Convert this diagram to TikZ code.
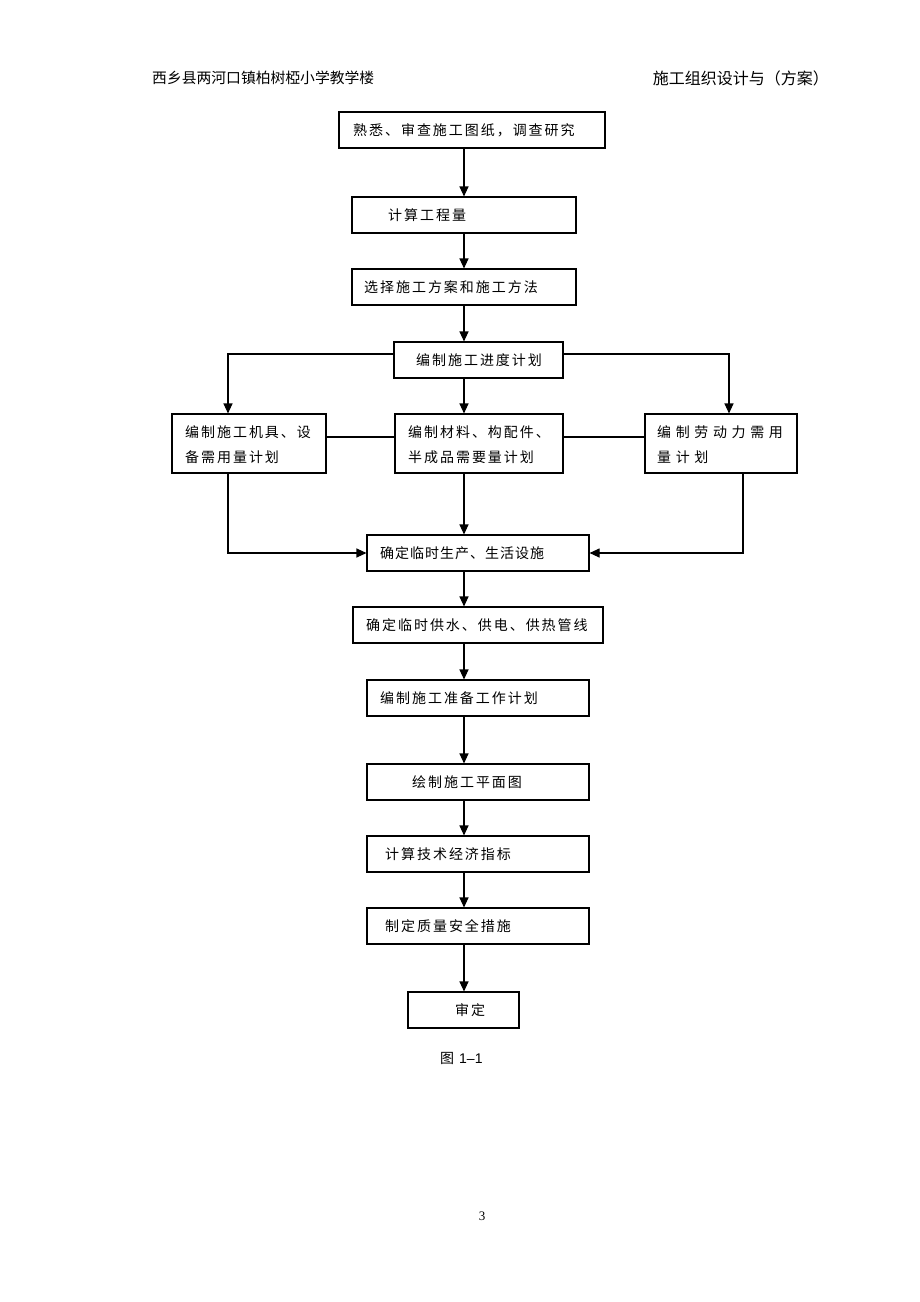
\documentclass[tikz,border=0pt]{standalone}
\usepackage{fontspec}
\setmainfont{Liberation Serif}
\newfontfamily\cjk{Noto Sans CJK SC}
\newfontfamily\cjkw[LetterSpace=14]{Noto Sans CJK SC}
\newfontfamily\cjkn[LetterSpace=7]{Noto Sans CJK SC}
\newfontfamily\cjkww[LetterSpace=33]{Noto Sans CJK SC}
\newfontfamily\arial{Liberation Sans}
\usetikzlibrary{arrows.meta}
\begin{document}
\begin{tikzpicture}[x=1pt,y=-1pt,
  box/.style={draw, line width=1.1pt, inner sep=0pt, minimum height=36pt},
  lbl/.style={anchor=west, inner sep=0pt, font=\cjkw\fontsize{14}{25}\selectfont, align=left},
  arr/.style={line width=1.1pt, -{Triangle[length=10pt,width=9pt]}},
  ln/.style={line width=1.1pt}]
\useasboundingbox (0,0) rectangle (920,1302);
% header
\node[anchor=west, inner sep=0pt, font=\cjk\fontsize{14.8}{16}\selectfont] (hl) at (152,78) {西乡县两河口镇柏树椏小学教学楼};
\node[anchor=east, inner sep=0pt, font=\cjk\fontsize{16}{18}\selectfont] (hr) at (829,78) {施工组织设计与（方案）};
% axis coordinates
\coordinate (ax) at (464,0);
\coordinate (axL) at (228,0);
\coordinate (axR) at (729,0);
\coordinate (axRb) at (743,0);
% boxes
\node[box, minimum width=266pt] (b1) at (472,130) {};
\node[box, minimum width=224pt] (b2) at (464,215) {};
\node[box, minimum width=224pt] (b3) at (464,287) {};
\node[box, minimum width=169pt] (b4) at (478.5,360) {};
\node[box, minimum width=154pt, minimum height=59pt] (bl) at (249,443.5) {};
\node[box, minimum width=168pt, minimum height=59pt] (bm) at (479,443.5) {};
\node[box, minimum width=152pt, minimum height=59pt] (br) at (721,443.5) {};
\node[box, minimum width=222pt] (b6) at (478,553) {};
\node[box, minimum width=250pt] (b7) at (478,625) {};
\node[box, minimum width=222pt] (b8) at (478,698) {};
\node[box, minimum width=222pt] (b9) at (478,782) {};
\node[box, minimum width=222pt] (b10) at (478,854) {};
\node[box, minimum width=222pt] (b11) at (478,926) {};
\node[box, minimum width=111pt] (b12) at (463.5,1010) {};
% labels
\node[lbl] (t1) at (353,130) {熟悉、审查施工图纸，调查研究};
\node[lbl] (t2) at (388,215) {计算工程量};
\node[lbl] (t3) at (364,287) {选择施工方案和施工方法};
\node[lbl] (t4) at (416,360) {编制施工进度计划};
\node[lbl] (tl) at (185,445) {编制施工机具、设\\备需用量计划};
\node[lbl] (tm) at (408,445) {编制材料、构配件、\\半成品需要量计划};
\node[lbl, font=\cjkww\fontsize{14}{25}\selectfont] (tr) at (657,445) {编制劳动力需用\\量计划};
\node[lbl, font=\cjkn\fontsize{14}{25}\selectfont] (t6) at (380,553) {确定临时生产、生活设施};
\node[lbl] (t7) at (366,625) {确定临时供水、供电、供热管线};
\node[lbl] (t8) at (380,698) {编制施工准备工作计划};
\node[lbl] (t9) at (412,782) {绘制施工平面图};
\node[lbl] (t10) at (385,854) {计算技术经济指标};
\node[lbl] (t11) at (385,926) {制定质量安全措施};
\node[lbl] (t12) at (455,1010) {审定};
% main flow arrows
\draw[arr] (b1.south -| ax) -- (b2.north -| ax);
\draw[arr] (b2.south -| ax) -- (b3.north -| ax);
\draw[arr] (b3.south -| ax) -- (b4.north -| ax);
\draw[arr] (b4.south -| ax) -- (bm.north -| ax);
\draw[arr] (bm.south -| ax) -- (b6.north -| ax);
\draw[arr] (b6.south -| ax) -- (b7.north -| ax);
\draw[arr] (b7.south -| ax) -- (b8.north -| ax);
\draw[arr] (b8.south -| ax) -- (b9.north -| ax);
\draw[arr] (b9.south -| ax) -- (b10.north -| ax);
\draw[arr] (b10.south -| ax) -- (b11.north -| ax);
\draw[arr] (b11.south -| ax) -- (b12.north -| ax);
% branches
\coordinate (yb) at (0,354);
\draw[arr] (b4.west |- yb) -- (axL |- yb) -- (bl.north -| axL);
\draw[arr] (b4.east |- yb) -- (axR |- yb) -- (br.north -| axR);
\coordinate (yh) at (0,437);
\draw[ln] (bl.east |- yh) -- (bm.west |- yh);
\draw[ln] (bm.east |- yh) -- (br.west |- yh);
\draw[arr] (bl.south -| axL) -- (axL |- b6.west) -- (b6.west);
\draw[arr] (br.south -| axRb) -- (axRb |- b6.east) -- (b6.east);
% caption and page number
\node[inner sep=0pt, anchor=west] (cap) at (440,1058) {{\cjk\fontsize{14}{16}\selectfont 图}\hspace{5pt}{\arial\fontsize{14}{16}\selectfont 1–1}};
\node[inner sep=0pt, font=\fontsize{13}{15}\selectfont] (pg) at (482,1216) {3};
\end{tikzpicture}
\end{document}
